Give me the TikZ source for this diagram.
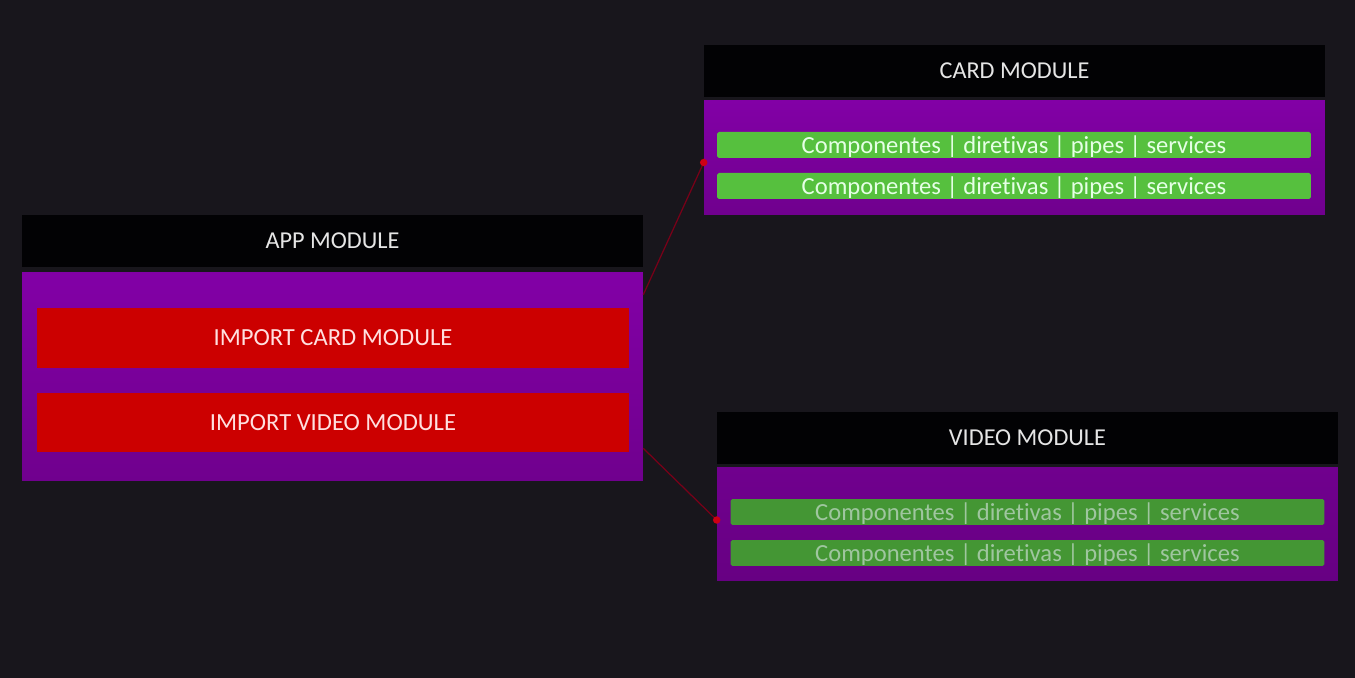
\documentclass[tikz,border=0pt]{standalone}
\usepackage{fontspec}
\setmainfont{Carlito}[Ligatures={NoCommon,NoRare}]
\usepackage{tikz}
\usetikzlibrary{calc}
\definecolor{mybg}{RGB}{24,22,28}
\definecolor{myhdr}{RGB}{2,2,4}
\definecolor{mypurple}{RGB}{130,0,166}
\definecolor{mypurpledk}{RGB}{112,0,142}
\definecolor{myred}{RGB}{204,0,0}
\definecolor{mygreen}{RGB}{86,192,62}
\definecolor{mygreendk}{RGB}{68,150,52}
\definecolor{mylink}{RGB}{120,0,24}
\definecolor{mydot}{RGB}{205,0,20}
\tikzset{
  hdrbox/.style={rectangle, fill=myhdr, minimum width=12.42cm, minimum height=1.04cm, inner sep=0pt, text depth=0pt, text=white!90!black, font=\fontsize{13.8}{15}\selectfont},
  bodybox/.style={rectangle, top color=mypurple, bottom color=mypurpledk, minimum width=12.42cm, inner sep=0pt},
  impbox/.style={rectangle, fill=myred, minimum width=11.84cm, minimum height=1.2cm, inner sep=0pt, text depth=0pt, text=red!12!white, font=\fontsize{14}{15}\selectfont},
  rowbox/.style={rectangle, fill=mygreen, minimum width=11.88cm, minimum height=0.52cm, inner sep=0pt, text depth=0pt, rounded corners=1pt, text=green!10!white, font=\fontsize{14}{15}\selectfont},
  rowboxdk/.style={rowbox, fill=mygreendk, text=green!25!gray!60!white},
  link/.style={line width=0.7pt, color=mylink},
  linkdot/.style={circle, fill=mydot, inner sep=0pt, minimum size=0.15cm}
}
\begin{document}
\begin{tikzpicture}[x=0.02cm, y=-0.02cm]
  % Background
  \fill[mybg] (0,0) rectangle (1355,678);
  \useasboundingbox (0,0) rectangle (1355,678);

  % App module
  \node[hdrbox] (apphdr) at (332.5,241) {APP MODULE};
  \node[bodybox, minimum height=4.18cm] (appbody) at (332.5,376.5) {};
  \node[impbox] (impcard) at (333,338) {IMPORT CARD MODULE};
  \node[impbox] (impvideo) at (333,422.5) {IMPORT VIDEO MODULE};

  % Card module
  \node[hdrbox] (cardhdr) at (1014.5,71) {CARD MODULE};
  \node[bodybox, minimum height=2.3cm] (cardbody) at (1014.5,157.5) {};
  \node[rowbox] (cardrowa) at (1014,145) {Componentes | diretivas | pipes | services};
  \node[rowbox] (cardrowb) at (1014,186) {Componentes | diretivas | pipes | services};

  % Video module
  \node[hdrbox] (videohdr) at (1027.5,438) {VIDEO MODULE};
  \node[bodybox, top color=mypurpledk, bottom color=mypurpledk!92!black, minimum height=2.28cm] (videobody) at (1027.5,524) {};
  \node[rowboxdk] (videorowa) at (1027.5,512) {Componentes | diretivas | pipes | services};
  \node[rowboxdk] (videorowb) at (1027.5,553) {Componentes | diretivas | pipes | services};

  % Links
  \coordinate (cardstart) at ($(appbody.north east)+(0,23)$);
  \coordinate (videostart) at ($(appbody.south east)+(0,-33)$);
  \coordinate (cardend) at ($(cardbody.west)+(0,5)$);
  \coordinate (videoend) at ($(videobody.west)+(0,-4)$);
  \draw[link] (cardstart) -- (cardend);
  \draw[link] (videostart) -- (videoend);
  \node[linkdot] (carddot) at (cardend) {};
  \node[linkdot] (videodot) at (videoend) {};
\end{tikzpicture}
\end{document}
